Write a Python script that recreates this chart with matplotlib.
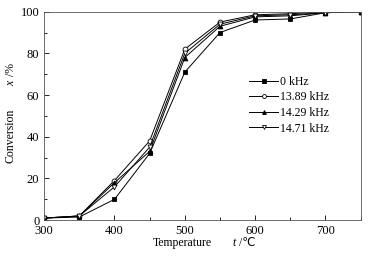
import matplotlib
matplotlib.use('Agg')
import matplotlib.pyplot as plt
from matplotlib.ticker import MultipleLocator

plt.rcParams['font.family'] = ['Liberation Serif', 'DejaVu Serif']

temps = [300, 350, 400, 450, 500, 550, 600, 650, 700, 750]
conv_0 = [1, 1.5, 10, 32, 71, 90, 96, 96.5, 99.5, 100]
conv_1389 = [1, 2, 19, 38, 82, 95, 98.5, 99, 100, 100]
conv_1429 = [1, 2, 18, 33, 78, 93, 97.5, 98, 99.5, 100]
conv_1471 = [1, 2, 16, 35, 80, 94, 98, 98.5, 99.5, 100]
labels = ['0 kHz', '13.89 kHz', '14.29 kHz', '14.71 kHz']

fig, ax = plt.subplots(figsize=(3.68, 2.59), dpi=100)
fig.subplots_adjust(left=0.12, right=0.98, bottom=0.15, top=0.955)

styles = [
    dict(marker='s', mfc='black', ms=3.5),
    dict(marker='o', mfc='white', ms=3.5),
    dict(marker='^', mfc='black', ms=3.5),
    dict(marker='v', mfc='white', ms=3.5),
]
for y, lab, st in zip([conv_0, conv_1389, conv_1429, conv_1471], labels, styles):
    ax.plot(temps, y, color='black', lw=0.7, mec='black', mew=0.6, label=lab, **st)

ax.set_xlim(300, 750)
ax.set_ylim(0, 100)
ax.xaxis.set_major_locator(MultipleLocator(100))
ax.xaxis.set_minor_locator(MultipleLocator(50))
ax.yaxis.set_major_locator(MultipleLocator(20))
ax.yaxis.set_minor_locator(MultipleLocator(10))
ax.tick_params(which='both', direction='in', labelsize=9, width=0.6)
ax.tick_params(which='major', length=3.5)
ax.tick_params(which='minor', length=2)
for s in ax.spines.values():
    s.set_linewidth(0.6)
    s.set_color('#555555')

# axis titles built from pieces: word, italic symbol, unit
lab_font = dict(fontsize=8.5, family=['Liberation Serif', 'DejaVu Sans'])
fig.text(182 / 368, 1 - 243 / 259, 'Temperature', ha='center', va='center', **lab_font)
fig.text(232 / 368, 1 - 243 / 259, 't', ha='left', va='center', style='italic', **lab_font)
fig.text(239 / 368, 1 - 243 / 259, '/\u2103', ha='left', va='center', **lab_font)
fig.text(11 / 368, 1 - 136 / 259, 'Conversion', ha='center', va='center', rotation=90, **lab_font)
fig.text(11 / 368, 1 - 83 / 259, 'x', ha='center', va='center', rotation=90, style='italic', **lab_font)
fig.text(11 / 368, 1 - 70 / 259, '/%', ha='center', va='center', rotation=90, **lab_font)

ax.legend(loc='upper left', bbox_to_anchor=(0.63, 0.72), frameon=False, fontsize=8.5,
          borderpad=0, handlelength=2.4, handletextpad=0.2, labelspacing=0.3,
          numpoints=1, markerscale=0.8)

fig.savefig('out.png', dpi=100)
